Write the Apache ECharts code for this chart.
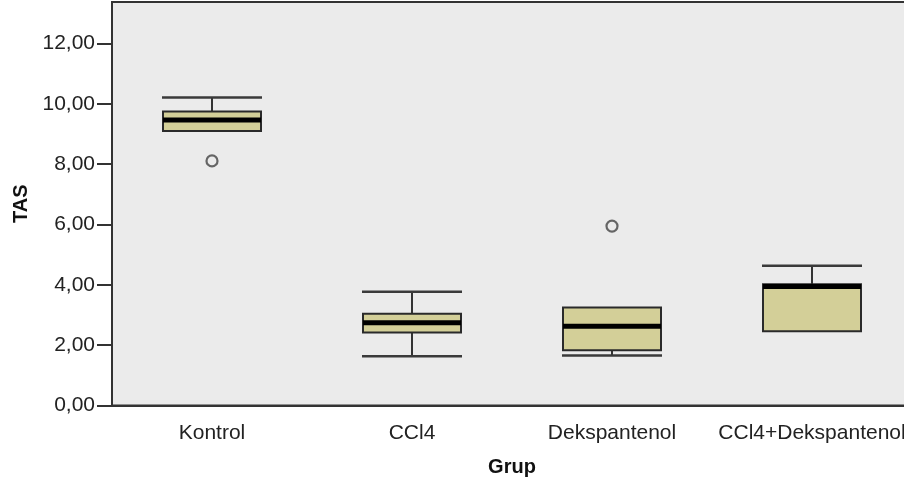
<!DOCTYPE html>
<html>
<head>
<meta charset="utf-8">
<script src="https://cdn.jsdelivr.net/npm/echarts@6/dist/echarts.min.js"></script>
<style>html,body{margin:0;padding:0;background:#fff;overflow:hidden;width:904px;height:485px;}#c{width:924px;height:485px;}</style>
</head>
<body>
<div id="c"></div>
<script>
const categories = ['Kontrol', 'CCl4', 'Dekspantenol', 'CCl4+Dekspantenol'];
const whiskerLow  = [9.10, 1.63, 1.66, 2.46];
const q1          = [9.10, 2.42, 1.83, 2.46];
const median      = [9.47, 2.74, 2.63, 3.95];
const q3          = [9.75, 3.04, 3.25, 4.02];
const whiskerHigh = [10.21, 3.77, 3.25, 4.63];
const outlierCat  = [0, 2];
const outlierVal  = [8.11, 5.95];
const yTicks = [0, 2, 4, 6, 8, 10, 12];

const boxData = categories.map((c, i) => [i, whiskerLow[i], q1[i], median[i], q3[i], whiskerHigh[i]]);
const outData = outlierCat.map((c, i) => [c, outlierVal[i]]);

const chart = echarts.init(document.getElementById('c'));
const font = "'Liberation Sans', Arial, sans-serif";
chart.setOption({
  animation: false,
  backgroundColor: '#ffffff',
  grid: { left: 112, top: 2, width: 800, height: 403.5, show: true, backgroundColor: '#ebebeb', borderColor: '#333', borderWidth: 2 },
  xAxis: {
    type: 'category', data: categories, boundaryGap: true,
    axisLine: { lineStyle: { color: '#333', width: 2 } },
    axisTick: { alignWithLabel: true, length: 15, lineStyle: { color: '#333', width: 1.5 } },
    axisLabel: { interval: 0, color: '#222', fontFamily: font, fontSize: 21, margin: 17 },
    name: 'Grup', nameLocation: 'middle', nameGap: 52,
    nameTextStyle: { color: '#111', fontFamily: font, fontSize: 20, fontWeight: 'bold' },
    splitLine: { show: false }
  },
  yAxis: {
    type: 'value', min: 0, max: 13.38,
    axisLine: { show: true, lineStyle: { color: '#333', width: 2 } },
    axisTick: { show: true, length: 15, customValues: yTicks, lineStyle: { color: '#333', width: 2 } },
    axisLabel: { customValues: yTicks, color: '#222', fontFamily: font, fontSize: 21, margin: 17,
      formatter: v => v.toFixed(2).replace('.', ',') },
    splitLine: { show: false },
    name: 'TAS', nameLocation: 'middle', nameGap: 76, nameRotate: 90,
    nameTextStyle: { color: '#111', fontFamily: font, fontSize: 20, fontWeight: 'bold' }
  },
  series: [
    {
      type: 'custom',
      data: boxData,
      encode: { x: 0, y: [1, 2, 3, 4, 5] },
      renderItem: function (params, api) {
        const i = api.value(0);
        const pLow = api.coord([i, api.value(1)]);
        const pQ1 = api.coord([i, api.value(2)]);
        const pMed = api.coord([i, api.value(3)]);
        const pQ3 = api.coord([i, api.value(4)]);
        const pHigh = api.coord([i, api.value(5)]);
        const band = api.size([1, 0])[0];
        const bw = band * 0.49, cw = band * 0.25;
        const cx = pQ1[0];
        const stroke = '#333';
        const children = [];
        if (Math.abs(pHigh[1] - pQ3[1]) > 0.5) {
          children.push({ type: 'line', shape: { x1: cx, y1: pQ3[1], x2: cx, y2: pHigh[1] }, style: { stroke: stroke, lineWidth: 2 } });
          children.push({ type: 'line', shape: { x1: cx - cw, y1: pHigh[1], x2: cx + cw, y2: pHigh[1] }, style: { stroke: '#3a3a3a', lineWidth: 2.5 } });
        }
        if (Math.abs(pLow[1] - pQ1[1]) > 0.5) {
          children.push({ type: 'line', shape: { x1: cx, y1: pQ1[1], x2: cx, y2: pLow[1] }, style: { stroke: stroke, lineWidth: 2 } });
          children.push({ type: 'line', shape: { x1: cx - cw, y1: pLow[1], x2: cx + cw, y2: pLow[1] }, style: { stroke: '#3a3a3a', lineWidth: 2.5 } });
        }
        children.push({ type: 'rect', shape: { x: cx - bw / 2, y: pQ3[1], width: bw, height: pQ1[1] - pQ3[1] },
          style: { fill: '#d3cf98', stroke: '#2a2a2a', lineWidth: 2 } });
        children.push({ type: 'line', shape: { x1: cx - bw / 2, y1: pMed[1], x2: cx + bw / 2, y2: pMed[1] },
          style: { stroke: '#000', lineWidth: 5 } });
        return { type: 'group', children: children };
      },
      z: 2
    },
    {
      type: 'scatter',
      data: outData,
      symbol: 'circle', symbolSize: 11,
      itemStyle: { color: '#ebebeb', borderColor: '#444', borderWidth: 2.2 },
      z: 3
    }
  ]
});
</script>
</body>
</html>
